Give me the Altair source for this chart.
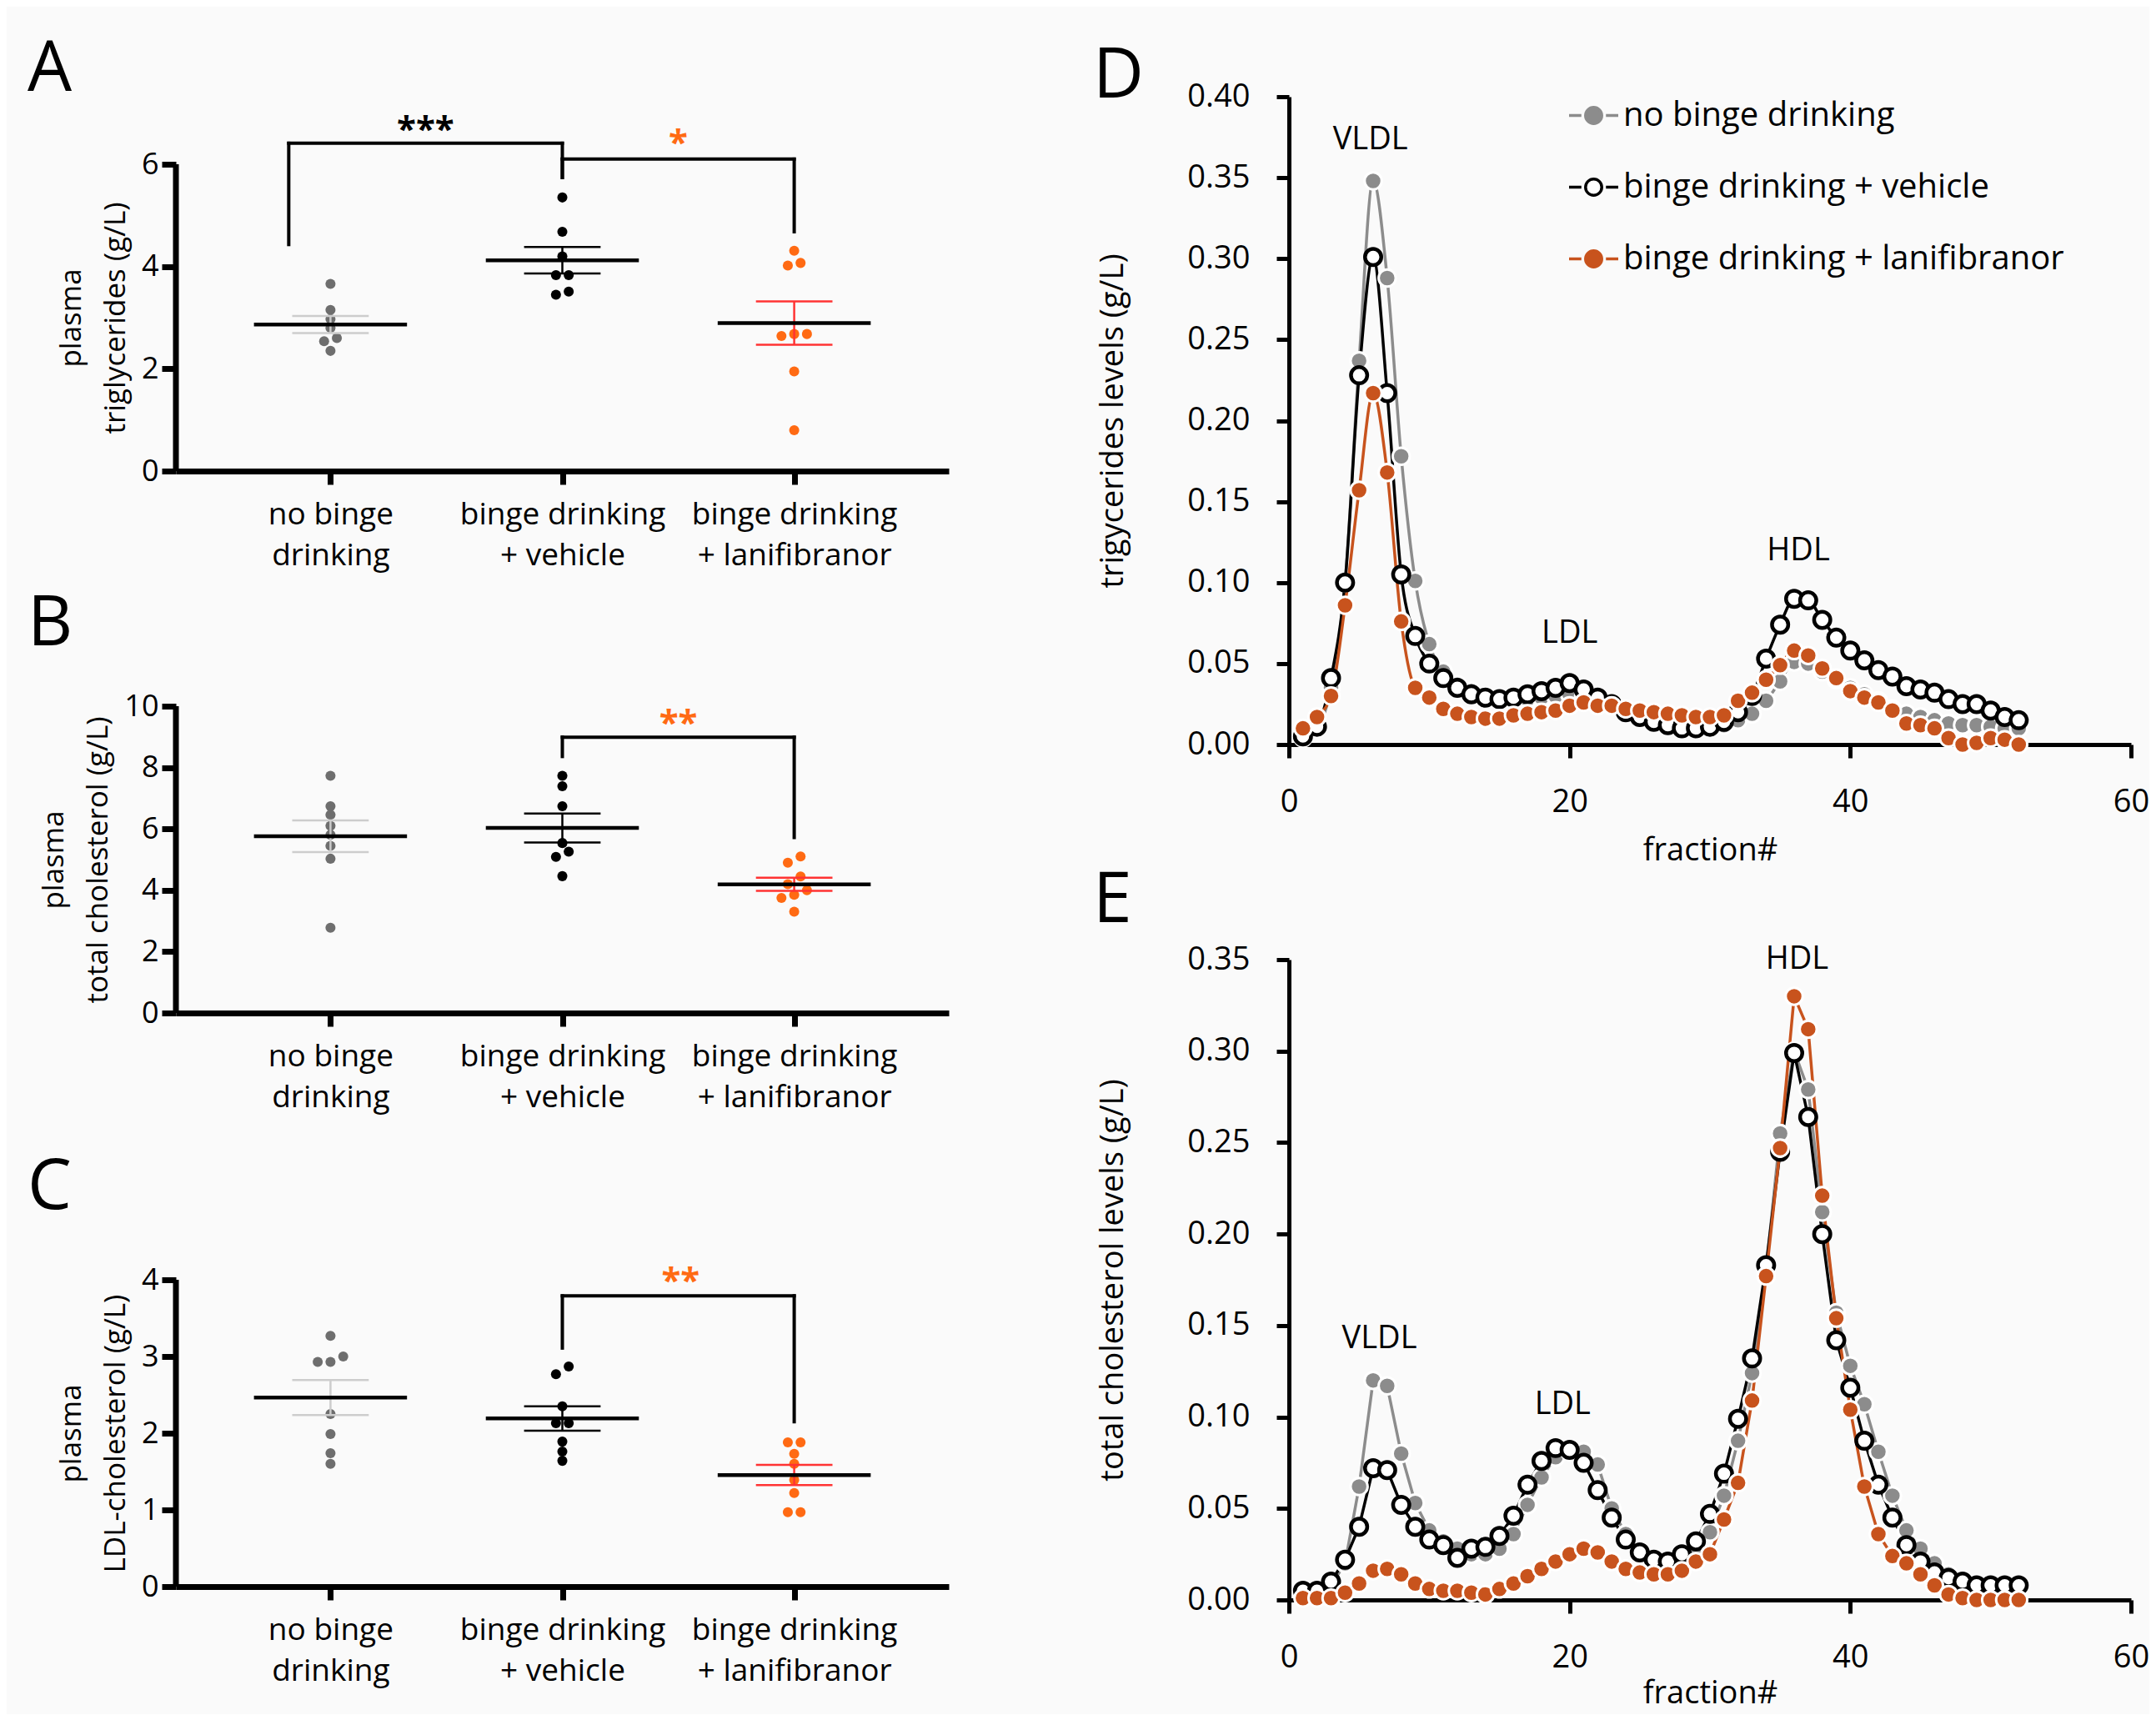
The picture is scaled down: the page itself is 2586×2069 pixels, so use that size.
import json
import altair as alt
import pandas as pd

FONT = "Open Sans"
GRAY_DOT = "#6e6e6e"
GRAY_SEM = "#cdcdcd"
ORANGE_DOT = "#ff6a13"
RED_SEM = "#ff3333"
GRAY_LINE = "#8c8c8c"
ORANGE_LINE = "#c8531d"

# ---------------- left panels (A, B, C) ----------------
group_ids = [1, 2, 3]
group_labels = [["no binge", "drinking"],
                ["binge drinking", "+ vehicle"],
                ["binge drinking", "+ lanifibranor"]]

tg_no_binge = [3.66, 3.15, 2.97, 2.80, 2.60, 2.54, 2.35]
tg_vehicle = [5.35, 4.68, 4.20, 3.83, 3.83, 3.51, 3.45]
tg_lanifibranor = [4.31, 4.07, 4.02, 2.68, 2.68, 2.64, 1.95, 0.80]

tc_no_binge = [7.73, 6.74, 6.46, 6.10, 5.81, 5.45, 5.03, 2.78]
tc_vehicle = [7.73, 7.39, 6.74, 5.54, 5.26, 5.09, 4.46]
tc_lanifibranor = [5.10, 4.90, 4.45, 4.20, 4.00, 3.85, 3.75, 3.30]

ldl_no_binge = [3.27, 3.00, 2.93, 2.93, 2.25, 1.99, 1.74, 1.60]
ldl_vehicle = [2.87, 2.77, 2.35, 2.13, 2.13, 1.89, 1.76, 1.64]
ldl_lanifibranor = [1.88, 1.88, 1.73, 1.60, 1.39, 1.22, 0.97, 0.97]

# brackets: [x_left, x_right, y_top, y_left_end, y_right_end]
tg_brackets = [[0.82, 2.0, 6.41, 4.43, 5.74], [2.0, 3.0, 6.10, 5.74, 4.68]]
tc_brackets = [[2.0, 3.0, 8.99, 8.36, 5.72]]
ldl_brackets = [[2.0, 3.0, 3.79, 3.11, 2.15]]

tg_star_x = [1.41, 2.5]
tg_star_y = [6.45, 6.19]
tg_star_text = ["***", "*"]
tc_star_x = [2.5]
tc_star_y = [9.08]
tc_star_text = ["**"]
ldl_star_x = [2.51]
ldl_star_y = [3.84]
ldl_star_text = ["**"]

# ---------------- right panels (D, E) ----------------
series_names = ["no binge drinking", "binge drinking + vehicle", "binge drinking + lanifibranor"]
fractions = list(range(1, 53))

tgp_no_binge = [0.004, 0.010, 0.035, 0.100, 0.237, 0.348, 0.288, 0.178, 0.101, 0.062,
                0.045, 0.037, 0.033, 0.030, 0.029, 0.028, 0.028, 0.029, 0.030, 0.031,
                0.030, 0.027, 0.024, 0.020, 0.017, 0.014, 0.012, 0.011, 0.011, 0.011,
                0.012, 0.015, 0.019, 0.027, 0.039, 0.051, 0.050, 0.045, 0.040, 0.035,
                0.031, 0.027, 0.022, 0.019, 0.017, 0.015, 0.013, 0.012, 0.012, 0.011,
                0.010, 0.010]
tgp_vehicle = [0.005, 0.011, 0.041, 0.100, 0.228, 0.301, 0.217, 0.105, 0.067, 0.050,
               0.041, 0.035, 0.031, 0.029, 0.028, 0.029, 0.031, 0.033, 0.035, 0.038,
               0.034, 0.029, 0.025, 0.020, 0.017, 0.014, 0.012, 0.010, 0.010, 0.011,
               0.014, 0.020, 0.030, 0.053, 0.074, 0.090, 0.089, 0.077, 0.066, 0.058,
               0.052, 0.046, 0.042, 0.036, 0.034, 0.032, 0.028, 0.025, 0.025, 0.021,
               0.017, 0.015]
tgp_lanifibranor = [0.010, 0.017, 0.030, 0.086, 0.157, 0.217, 0.168, 0.076, 0.035, 0.029,
                    0.022, 0.019, 0.017, 0.016, 0.016, 0.018, 0.019, 0.020, 0.021, 0.024,
                    0.026, 0.024, 0.024, 0.022, 0.021, 0.020, 0.019, 0.018, 0.017, 0.017,
                    0.018, 0.027, 0.032, 0.040, 0.049, 0.058, 0.055, 0.047, 0.041, 0.033,
                    0.029, 0.026, 0.021, 0.013, 0.012, 0.010, 0.004, 0.000, 0.001, 0.004,
                    0.003, 0.000]

tcp_no_binge = [0.003, 0.004, 0.008, 0.020, 0.062, 0.120, 0.117, 0.080, 0.053, 0.038,
                0.032, 0.028, 0.025, 0.025, 0.028, 0.036, 0.052, 0.067, 0.078, 0.081,
                0.081, 0.074, 0.050, 0.036, 0.027, 0.021, 0.019, 0.021, 0.026, 0.037,
                0.057, 0.087, 0.124, 0.180, 0.255, 0.300, 0.279, 0.212, 0.157, 0.128,
                0.107, 0.081, 0.057, 0.038, 0.028, 0.020, 0.014, 0.011, 0.009, 0.008,
                0.008, 0.008]
tcp_vehicle = [0.005, 0.005, 0.010, 0.022, 0.040, 0.072, 0.071, 0.052, 0.040, 0.033,
               0.030, 0.023, 0.028, 0.029, 0.035, 0.046, 0.063, 0.076, 0.083, 0.082,
               0.075, 0.060, 0.045, 0.033, 0.026, 0.022, 0.021, 0.025, 0.032, 0.047,
               0.069, 0.099, 0.132, 0.183, 0.245, 0.299, 0.264, 0.200, 0.142, 0.116,
               0.087, 0.063, 0.045, 0.030, 0.021, 0.015, 0.012, 0.010, 0.008, 0.008,
               0.008, 0.008]
tcp_lanifibranor = [0.001, 0.001, 0.001, 0.004, 0.009, 0.016, 0.017, 0.014, 0.009, 0.006,
                    0.005, 0.005, 0.004, 0.003, 0.006, 0.009, 0.013, 0.017, 0.021, 0.025,
                    0.028, 0.026, 0.021, 0.017, 0.015, 0.014, 0.014, 0.016, 0.021, 0.025,
                    0.044, 0.064, 0.109, 0.177, 0.247, 0.330, 0.312, 0.221, 0.154, 0.104,
                    0.062, 0.036, 0.024, 0.020, 0.014, 0.008, 0.003, 0.001, 0.000, 0.000,
                    0.000, 0.000]

tgp_note_x = [5.8, 20.0, 36.3]
tgp_note_y = [0.373, 0.0687, 0.1195]
tcp_note_x = [6.45, 19.5, 36.2]
tcp_note_y = [0.1428, 0.1066, 0.350]
note_text = ["VLDL", "LDL", "HDL"]

PLOT_H = 368


def spread(vals, thresh, step=0.055):
    order = sorted(range(len(vals)), key=lambda i: vals[i])
    clusters = []
    for i in order:
        if clusters and vals[i] - vals[clusters[-1][0]] < thresh:
            clusters[-1].append(i)
        else:
            clusters.append([i])
    offs = [0.0] * len(vals)
    for c in clusters:
        for j, i in enumerate(c):
            offs[i] = (j - (len(c) - 1) / 2) * step
    return offs


def letter_layer(letter, dx, dy):
    return alt.Chart(pd.DataFrame({"t": [letter]})).mark_text(
        align="left", baseline="top", fontSize=84, font=FONT, color="black"
    ).encode(text="t:N", x=alt.value(dx), y=alt.value(dy))


def dot_panel(series, ymax, ystep, ytitle, brackets, sx, sy, st, star_colors,
              letter, letter_dy, extra_top=0):
    rows = []
    thresh = 0.028 * ymax
    for gi, vals in zip(group_ids, series):
        for v, o in zip(vals, spread(vals, thresh)):
            rows.append({"g": gi, "v": v, "xp": gi + o})
    df = pd.DataFrame(rows)

    height = PLOT_H + extra_top
    ytop = ymax * height / PLOT_H
    xs = alt.Scale(domain=[1 / 3, 11 / 3], nice=False, zero=False)
    ys = alt.Scale(domain=[0, ytop], nice=False)
    xaxis = alt.Axis(values=group_ids, title=None,
                     labelExpr=json.dumps(group_labels) + "[datum.value - 1]",
                     tickSize=16, tickWidth=7, domainWidth=7, labelLimit=0,
                     labelFontSize=37, labelLineHeight=49, labelPadding=18)
    yaxis = alt.Axis(values=list(range(0, ymax + 1, ystep)), title=ytitle,
                     tickSize=17, tickWidth=7, domain=False,
                     labelFontSize=36, labelPadding=4,
                     titleFontSize=35, titleLineHeight=53, titlePadding=13,
                     titleY=extra_top + PLOT_H / 2)

    def X(f):
        return alt.X(f, type="quantitative", scale=xs, axis=xaxis)

    def Y(f):
        return alt.Y(f, type="quantitative", scale=ys, axis=yaxis)

    base = alt.Chart(df)
    layers = []
    # y axis line drawn from 0 to the top tick only
    layers.append(alt.Chart(pd.DataFrame({"x": [1 / 3], "y": [0], "y2": [ymax]})).mark_rule(
        color="black", strokeWidth=7).encode(x=X("x"), y=Y("y"), y2="y2:Q"))
    styles = [(GRAY_DOT, GRAY_SEM), ("black", "black"), (ORANGE_DOT, RED_SEM)]
    for gi, (pc, sc) in zip(group_ids, styles):
        pts = base.transform_filter(alt.datum.g == gi).mark_circle(
            size=145, opacity=1, color=pc).encode(x=X("xp"), y=Y("v"))
        summ = base.transform_filter(alt.datum.g == gi).transform_aggregate(
            m="mean(v)", se="stderr(v)", groupby=["g"]
        ).transform_calculate(
            lo="datum.m - datum.se", hi="datum.m + datum.se",
            ml="datum.g - 0.33", mr="datum.g + 0.33",
            sl="datum.g - 0.165", sr="datum.g + 0.165")
        sem_v = summ.mark_rule(color=sc, strokeWidth=2.5).encode(
            x=X("g"), y=Y("lo"), y2="hi:Q")
        sem_hi = summ.mark_rule(color=sc, strokeWidth=2.5).encode(
            x=X("sl"), x2="sr:Q", y=Y("hi"))
        sem_lo = summ.mark_rule(color=sc, strokeWidth=2.5).encode(
            x=X("sl"), x2="sr:Q", y=Y("lo"))
        mean = summ.mark_rule(color="black", strokeWidth=4.5).encode(
            x=X("ml"), x2="mr:Q", y=Y("m"))
        layers += [pts, sem_v, sem_hi, sem_lo, mean]

    seg = []
    for x1, x2, yt, yl, yr in brackets:
        seg.append({"x": x1, "x2": x1, "y": yl, "y2": yt})
        seg.append({"x": x1, "x2": x2, "y": yt, "y2": yt})
        seg.append({"x": x2, "x2": x2, "y": yr, "y2": yt})
    layers.append(alt.Chart(pd.DataFrame(seg)).mark_rule(
        color="black", strokeWidth=4, strokeCap="square").encode(
        x=X("x"), x2="x2:Q", y=Y("y"), y2="y2:Q"))

    for x, y, t, c in zip(sx, sy, st, star_colors):
        layers.append(alt.Chart(pd.DataFrame({"x": [x], "y": [y], "t": [t]})).mark_text(
            font=FONT, fontSize=42, fontWeight="bold", color=c,
            align="center", baseline="alphabetic").encode(x=X("x"), y=Y("y"), text="t:N"))

    layers.append(letter_layer(letter, -178, letter_dy + extra_top))
    return alt.layer(*layers).properties(width=927, height=height)


LEGEND_PATH = ("M-1,0L-0.5,0M0.5,0L1,0M0.33,0A0.33,0.33,0,1,1,-0.33,0"
               "A0.33,0.33,0,1,1,0.33,0Z")


def profile_panel(vals3, ymax, ytitle, nx, ny, letter, letter_dy, interp, with_legend, height):
    rows = []
    for name, vals in zip(series_names, vals3):
        for f, v in zip(fractions, vals):
            rows.append({"f": f, "v": v, "s": name})
    df = pd.DataFrame(rows)

    xs = alt.Scale(domain=[0, 60], nice=False)
    ys = alt.Scale(domain=[0, ymax], nice=False)
    nticks = int(round(ymax / 0.05))
    xaxis = alt.Axis(values=[0, 20, 40, 60], title="fraction#",
                     tickSize=16, tickWidth=5, domainWidth=5,
                     labelFontSize=38, labelPadding=34, labelFlush=False,
                     titleFontSize=38, titlePadding=20 if with_legend else 5)
    yaxis = alt.Axis(values=[round(i * 0.05, 2) for i in range(nticks + 1)], format=".2f",
                     title=ytitle, tickSize=15, tickWidth=5, domainWidth=5,
                     labelFontSize=38, labelPadding=32,
                     titleFontSize=38, titlePadding=69)

    def X(f):
        return alt.X(f, type="quantitative", scale=xs, axis=xaxis)

    def Y(f):
        return alt.Y(f, type="quantitative", scale=ys, axis=yaxis)

    if with_legend:
        leg = alt.Legend(orient="none", legendX=334, legendY=-9, title=None,
                         symbolType=LEGEND_PATH, symbolSize=3481, symbolStrokeWidth=3.5,
                         symbolFillColor="white", symbolStrokeColor="black",
                         labelFont=FONT, labelFontSize=40, labelColor="black",
                         labelOffset=4, rowPadding=34, padding=0, labelLimit=0)
    else:
        leg = None
    stroke_scale = alt.Scale(domain=series_names, range=[GRAY_LINE, "black", ORANGE_LINE])
    fill_scale = alt.Scale(domain=series_names, range=[GRAY_LINE, "white", ORANGE_LINE])

    base = alt.Chart(df)
    line = base.mark_line(interpolate=interp, strokeWidth=3.5).encode(
        x=X("f"), y=Y("v"),
        stroke=alt.Stroke("s:N", scale=stroke_scale, legend=leg),
        fill=alt.Fill("s:N", scale=fill_scale, legend=leg),
        fillOpacity=alt.value(0))
    p_gray = base.transform_filter(alt.datum.s == series_names[0]).mark_point(
        shape="circle", filled=True, fill=GRAY_LINE, stroke="white", strokeWidth=3,
        size=420, opacity=1).encode(x=X("f"), y=Y("v"))
    p_veh = base.transform_filter(alt.datum.s == series_names[1]).mark_point(
        shape="circle", filled=True, fill="white", stroke="black", strokeWidth=4.5,
        size=380, opacity=1).encode(x=X("f"), y=Y("v"))
    p_lani = base.transform_filter(alt.datum.s == series_names[2]).mark_point(
        shape="circle", filled=True, fill=ORANGE_LINE, stroke="white", strokeWidth=3,
        size=420, opacity=1).encode(x=X("f"), y=Y("v"))
    notes = alt.Chart(pd.DataFrame({"x": nx, "y": ny, "t": note_text})).mark_text(
        font=FONT, fontSize=38, color="black", align="center", baseline="middle"
    ).encode(x=X("x"), y=Y("y"), text="t:N")
    return alt.layer(line, p_gray, p_veh, p_lani, notes,
                     letter_layer(letter, -235, letter_dy)).properties(width=1010, height=height)


# panel A gets extra empty room above its top tick so the right column sits higher
A = dot_panel([tg_no_binge, tg_vehicle, tg_lanifibranor], 6, 2,
              ["plasma", "triglycerides (g/L)"], tg_brackets,
              tg_star_x, tg_star_y, tg_star_text, ["black", ORANGE_DOT], "A", -154,
              extra_top=81)
B = dot_panel([tc_no_binge, tc_vehicle, tc_lanifibranor], 10, 2,
              ["plasma", "total cholesterol (g/L)"], tc_brackets,
              tc_star_x, tc_star_y, tc_star_text, [ORANGE_DOT], "B", -139)
C = dot_panel([ldl_no_binge, ldl_vehicle, ldl_lanifibranor], 4, 1,
              ["plasma", "LDL-cholesterol (g/L)"], ldl_brackets,
              ldl_star_x, ldl_star_y, ldl_star_text, [ORANGE_DOT], "C", -151)

D = profile_panel([tgp_no_binge, tgp_vehicle, tgp_lanifibranor], 0.40,
                  "trigycerides levels (g/L)", tgp_note_x, tgp_note_y,
                  "D", -65, "monotone", True, 777)
E = profile_panel([tcp_no_binge, tcp_vehicle, tcp_lanifibranor], 0.35,
                  "total cholesterol levels (g/L)", tcp_note_x, tcp_note_y,
                  "E", -111, "linear", False, 768)

left = alt.vconcat(alt.vconcat(A, B, spacing=23), C, spacing=49)
right = alt.vconcat(D, E, spacing=0).resolve_scale(stroke="independent", fill="independent")

chart = alt.hconcat(left, right, spacing=173).resolve_scale(
    stroke="independent", fill="independent"
).properties(
    padding={"left": 25, "top": 34, "right": 0, "bottom": 6},
    background="#fafafa",
).configure(font=FONT).configure_view(stroke=None).configure_axis(
    grid=False, domainColor="black", tickColor="black", labelColor="black",
    titleColor="black", labelFont=FONT, titleFont=FONT, titleFontWeight="normal",
)

chart.save("out.html", embed_options={"renderer": "svg", "actions": False})
